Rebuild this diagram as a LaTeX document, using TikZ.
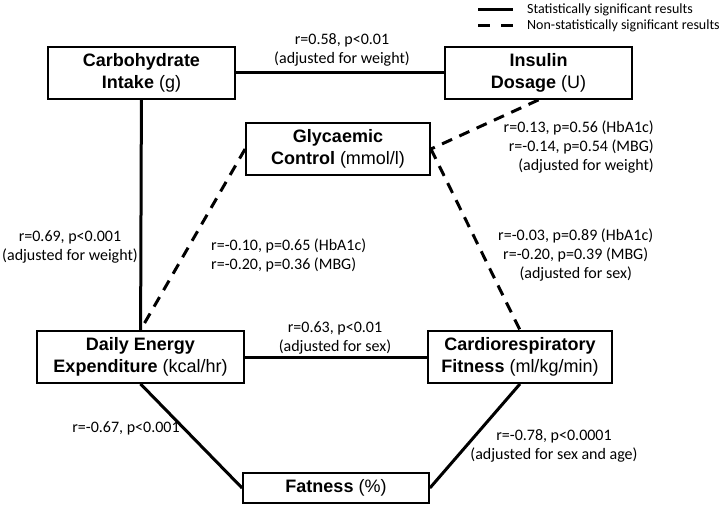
\documentclass[tikz,border=0pt]{standalone}
\usepackage{fontspec}
\setmainfont{Carlito}
\newfontfamily\boxfont{Liberation Sans}
\begin{document}
\begin{tikzpicture}[x=1pt, y=-1pt,
  var/.style={draw, line width=1.8pt, minimum height=52pt, align=center,
    inner sep=0pt, font=\boxfont\fontsize{18}{22}\selectfont},
  stat/.style={inner sep=0pt, font=\fontsize{16}{19}\selectfont},
  key/.style={inner sep=0pt, font=\fontsize{14}{17}\selectfont},
  sig/.style={line width=3pt},
  nonsig/.style={line width=3pt, dash pattern=on 11pt off 8pt}]
  \useasboundingbox (0,0) rectangle (726,508);

  % variables
  \node[var, minimum width=187pt] (carb) at (141.5,73) {\textbf{Carbohydrate}\\\textbf{Intake} (g)};
  \node[var, minimum width=187pt] (insulin) at (538.5,73) {\textbf{Insulin}\\\textbf{Dosage} (U)};
  \node[var, minimum width=184pt] (glyc) at (338,149) {\textbf{Glycaemic}\\\textbf{Control} (mmol/l)};
  \node[var, minimum width=207pt] (energy) at (140.5,357) {\textbf{Daily Energy}\\\textbf{Expenditure} (kcal/hr)};
  \node[var, minimum width=184pt] (fitness) at (520,357) {\textbf{Cardiorespiratory}\\\textbf{Fitness} (ml/kg/min)};
  \node[var, minimum width=186pt, minimum height=30pt] (fat) at (336,488) {\textbf{Fatness} (\%)};

  % connections
  \draw[sig] (carb) -- (insulin);
  \draw[sig] (carb) -- (energy);
  \draw[sig] (energy) -- (fitness);
  \draw[sig] (energy.south) -- (fat.west);
  \draw[sig] (fitness.south) -- (fat.east);
  \draw[nonsig] (insulin.south) -- (glyc.east);
  \draw[nonsig] (glyc.east) -- (fitness.north);
  \draw[nonsig] (glyc.west) -- (energy.north);

  % statistics
  \node[stat, align=center] (carbins) at (342,49.5) {r=0.58, p<0.01\\(adjusted for weight)};
  \node[stat, align=right, anchor=north east] (insglyc) at (654,121) {r=0.13, p=0.56 (HbA1c)\\r=-0.14, p=0.54 (MBG)\\(adjusted for weight)};
  \node[stat, align=center] (carbee) at (70,247) {r=0.69, p<0.001\\(adjusted for weight)};
  \node[stat, align=left, anchor=north west] (glycee) at (211,239) {r=-0.10, p=0.65 (HbA1c)\\r=-0.20, p=0.36 (MBG)};
  \node[stat, align=center, anchor=north west] (glycfit) at (498,229) {r=-0.03, p=0.89 (HbA1c)\\r=-0.20, p=0.39 (MBG)\\(adjusted for sex)};
  \node[stat, align=center] (eefit) at (335,338) {r=0.63, p<0.01\\(adjusted for sex)};
  \node[stat] (eefat) at (126,428) {r=-0.67, p<0.001};
  \node[stat, align=center] (fitfat) at (554,446) {r=-0.78, p<0.0001\\(adjusted for sex and age)};

  % legend
  \coordinate (s1) at (478,10);
  \coordinate (s2) at (513,10);
  \coordinate (d1) at (478,26);
  \coordinate (d2) at (513,26);
  \draw[sig] (s1) -- (s2);
  \draw[line width=3pt, dash pattern=on 12pt off 11pt] (d1) -- (d2);
  \node[key, anchor=west] (sigtext) at (527,10) {Statistically significant results};
  \node[key, anchor=west] (nonsigtext) at (527,26) {Non-statistically significant results};
\end{tikzpicture}
\end{document}
